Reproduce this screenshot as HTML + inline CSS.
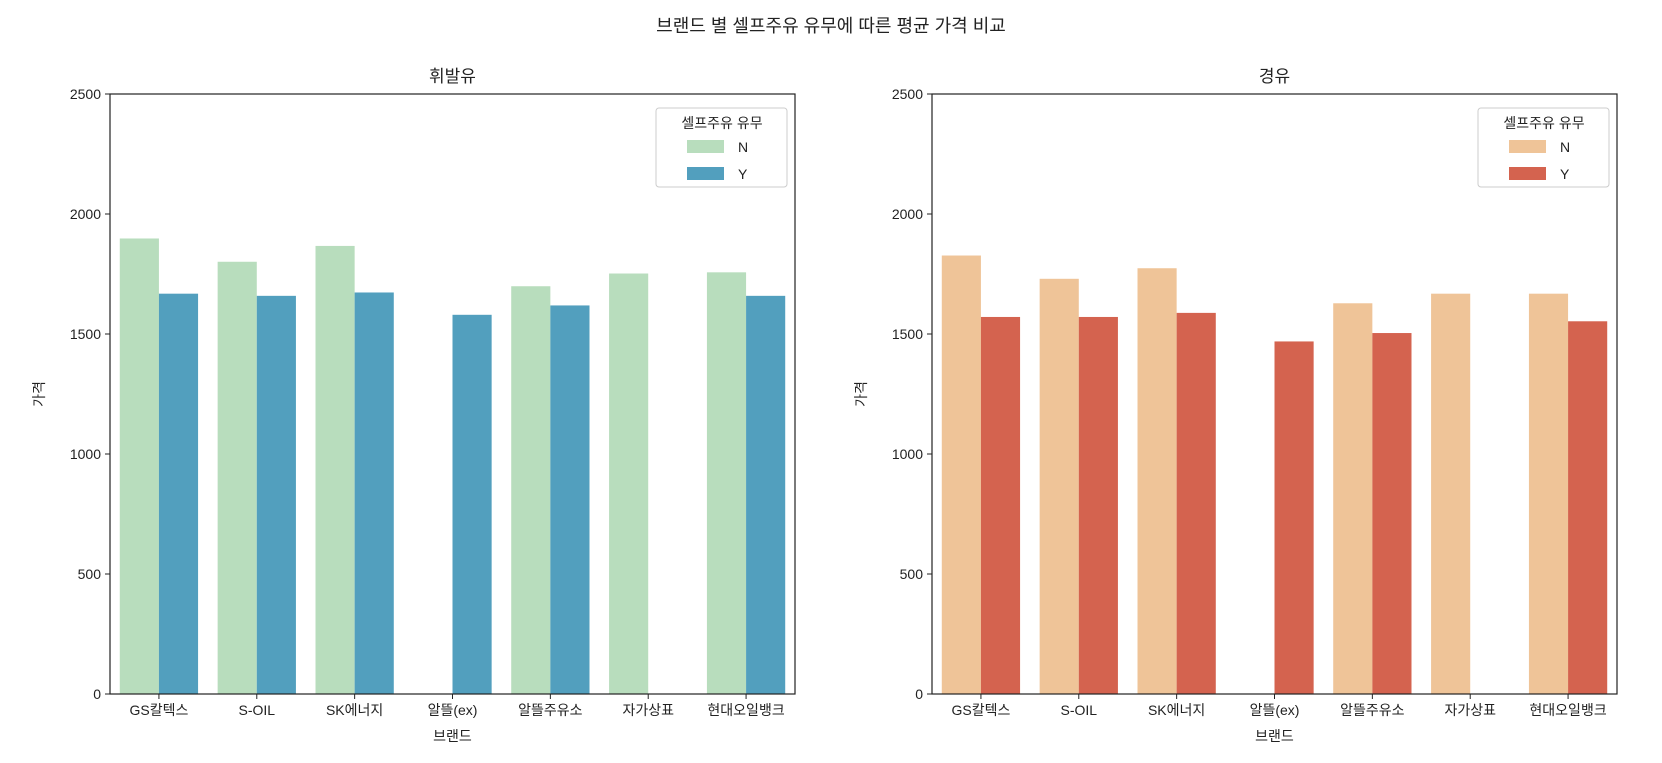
<!DOCTYPE html>
<html><head><meta charset="utf-8"><style>
body{margin:0;background:#fff;}
svg text{font-family:"Liberation Sans","Noto Sans CJK KR",sans-serif;fill:#222;}
</style></head><body>
<svg id="chart" width="1662" height="758" xmlns="http://www.w3.org/2000/svg">
<text x="831" y="32" text-anchor="middle" font-size="18">브랜드 별 셀프주유 유무에 따른 평균 가격 비교</text>
</svg>
<script>
const categories=["GS칼텍스","S-OIL","SK에너지","알뜰(ex)","알뜰주유소","자가상표","현대오일뱅크"];
const gasolineN=[1898,1801,1867,null,1699,1752,1757];
const gasolineY=[1668,1659,1673,1580,1619,null,1659];
const dieselN=[1827,1730,1774,null,1628,1668,1668];
const dieselY=[1571,1571,1588,1469,1504,null,1553];
const yTicks=[0,500,1000,1500,2000,2500];
const NS="http://www.w3.org/2000/svg";
const svg=document.getElementById('chart');
function mk(tag,attrs,parent){const e=document.createElementNS(NS,tag);for(const k in attrs)e.setAttribute(k,attrs[k]);(parent||svg).appendChild(e);return e;}
function panel(left,title,nVals,yVals,cN,cY,key){
  const right=left+685,top=94,bottom=694,yMax=2500;
  const g=mk('g',{});
  
  
  const ys=v=>bottom-(v/yMax)*(bottom-top);
  const bw=(right-left)/categories.length;
  const xs=i=>left+bw*(i+0.5);
  categories.forEach((c,i)=>{
    [[nVals,cN,-1,'n'],[yVals,cY,0,'y']].forEach(([arr,col,off,s])=>{
      const v=arr[i]; if(v==null)return;
      const r=mk('rect',{x:xs(i)+off*bw*0.4,y:ys(v),width:bw*0.4,height:bottom-ys(v),fill:col},g);
      
      
    });
    mk('line',{x1:xs(i),x2:xs(i),y1:bottom,y2:bottom+5,stroke:'#222'},g);
    const t=mk('text',{x:xs(i),y:bottom+21,'text-anchor':'middle','font-size':'14'},g);
    t.textContent=c;
    
    
  });
  yTicks.forEach(v=>{
    mk('line',{x1:left-5,x2:left,y1:ys(v),y2:ys(v),stroke:'#222'},g);
    const t=mk('text',{x:left-9,y:ys(v)+5,'text-anchor':'end','font-size':'14'},g);
    t.textContent=v;
    
    
  });
  mk('rect',{x:left,y:top,width:right-left,height:bottom-top,fill:'none',stroke:'#222','stroke-width':1.2},g);
  const tt=mk('text',{x:(left+right)/2,y:top-12,'text-anchor':'middle','font-size':'17'},g);
  tt.textContent=title;
  
  
  const xl=mk('text',{x:(left+right)/2,y:741,'text-anchor':'middle','font-size':'14'},g);
  xl.textContent='브랜드';
  
  
  const yl=mk('text',{x:0,y:0,'text-anchor':'middle','font-size':'14',transform:`translate(${left-66},${(top+bottom)/2}) rotate(-90)`},g);
  yl.textContent='가격';
  
  
  const lg=mk('g',{},g);
  
  
  const lx=right-139;
  mk('rect',{x:lx,y:108,width:131,height:79,rx:3,fill:'#fff',stroke:'#ccc'},lg);
  const lt=mk('text',{x:lx+66,y:128,'text-anchor':'middle','font-size':'14'},lg);
  lt.textContent='셀프주유 유무';
  [['N',cN,140],['Y',cY,167]].forEach(([lab,col,yy])=>{
    mk('rect',{x:lx+31,y:yy,width:37,height:13,fill:col},lg);
    const t=mk('text',{x:lx+82,y:yy+12,'font-size':'14'},lg);
    t.textContent=lab;
    
    
  });
}
panel(110,'휘발유',gasolineN,gasolineY,'#b8ddbd','#529fbe','gasoline');
panel(932,'경유',dieselN,dieselY,'#efc498','#d4634f','diesel');
</script>
</body></html>
